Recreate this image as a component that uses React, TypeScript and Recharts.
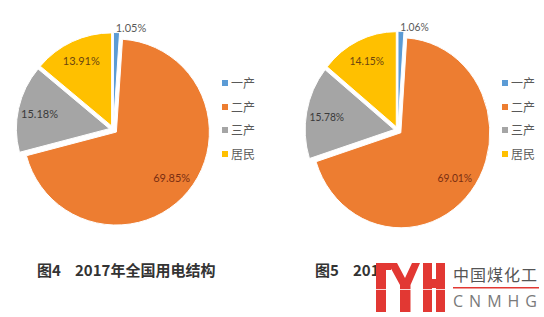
import React from 'react';
import { PieChart, Pie, Cell } from 'recharts';

const categories = ['一产', '二产', '三产', '居民'];
const values2017 = [1.05, 69.85, 15.18, 13.91];
const values2018 = [1.06, 69.01, 15.78, 14.15];
const colors = ['#5B9BD5', '#ED7D31', '#A5A5A5', '#FFC000'];
const labelColors = ['#5a5a5a', '#7a2e12', '#3a3a3a', '#6b4510'];
const captionLeft = ['图4', '2017年全国用电结构'];
// the rest of this caption is hidden under the watermark in the reference
const captionRight = ['图5', '201'];
const logoCn = '中国煤化工';
const logoEn = 'CNMHG';

const NUM_FONT = "Lato, 'Noto Sans', 'Noto Sans CJK SC', sans-serif";
const CJK_FONT = "'Noto Sans CJK SC', 'Noto Sans', sans-serif";

type ExplodedProps = {
  values: number[];
  cx: number;
  cy: number;
  r: number;
  explode: number;
  width: number;
  height: number;
};

function makeLabel(i: number, values: number[]) {
  return (props: any) => {
    if (props.index !== i) return null;
    const { cx, cy, midAngle, outerRadius } = props;
    const v = values[i];
    const RAD = Math.PI / 180;
    const outside = v < 5;
    const rr = outside ? outerRadius + 5 : outerRadius * 0.77;
    const x = cx + rr * Math.cos(-midAngle * RAD);
    const y = cy + rr * Math.sin(-midAngle * RAD);
    return (
      <text
        x={outside ? x - 1 : x}
        y={y}
        textAnchor={outside ? 'start' : 'middle'}
        dominantBaseline="central"
        fill={labelColors[i]}
        fontSize={11}
        fontFamily={NUM_FONT}
      >
        {v.toFixed(2)}%
      </text>
    );
  };
}

function ExplodedPie({ values, cx, cy, r, explode, width, height }: ExplodedProps) {
  const data = categories.map((name, i) => ({ name, value: values[i] }));
  const total = values.reduce((a, b) => a + b, 0);
  let cum = 0;
  const pies = values.map((v, i) => {
    const mid = ((cum + v / 2) / total) * 2 * Math.PI;
    cum += v;
    const ox = explode * Math.sin(mid);
    const oy = -explode * Math.cos(mid);
    return (
      <Pie
        key={i}
        data={data}
        dataKey="value"
        nameKey="name"
        cx={cx + ox}
        cy={cy + oy}
        outerRadius={r}
        startAngle={90}
        endAngle={-270}
        isAnimationActive={false}
        labelLine={false}
        label={makeLabel(i, values)}
        legendType="none"
      >
        {data.map((_, j) => (
          <Cell
            key={j}
            fill={j === i ? colors[j] : 'transparent'}
            stroke={j === i ? '#ffffff' : 'none'}
            strokeWidth={1}
          />
        ))}
      </Pie>
    );
  });
  return (
    <PieChart width={width} height={height}>
      {pies}
    </PieChart>
  );
}

function LegendBox({ left, top }: { left: number; top: number }) {
  return (
    <div style={{ position: 'absolute', left, top }}>
      {categories.map((c, i) => (
        <div
          key={c}
          style={{
            position: 'absolute',
            left: 0,
            top: i * 23.5,
            height: 14,
            display: 'flex',
            alignItems: 'center',
            whiteSpace: 'nowrap',
          }}
        >
          <span style={{ display: 'inline-block', width: 6, height: 6, background: colors[i], marginRight: 3 }} />
          <span style={{ fontFamily: CJK_FONT, fontSize: 12, color: '#595959', lineHeight: '14px' }}>{c}</span>
        </div>
      ))}
    </div>
  );
}

function Caption({ left, parts }: { left: number; parts: string[] }) {
  const st: React.CSSProperties = {
    position: 'absolute',
    top: 261,
    fontFamily: CJK_FONT,
    fontWeight: 700,
    fontSize: 15,
    lineHeight: '18px',
    color: '#333333',
    whiteSpace: 'nowrap',
  };
  return (
    <>
      <div style={{ ...st, left }}>{parts[0]}</div>
      <div style={{ ...st, left: left + 38 }}>{parts[1]}</div>
    </>
  );
}

function Logo() {
  const red = '#e23833';
  return (
    <svg width={544} height={317} style={{ position: 'absolute', left: 0, top: 0, pointerEvents: 'none' }}>
      <rect x={376} y={263} width={10} height={49} fill={red} />
      <rect x={376} y={263} width={15} height={7} fill={red} />
      <polygon
        points="388,263 397,263 405,278 412,263 420,263 410.5,285 410.5,312 400,312 400,285"
        fill={red}
      />
      <rect x={423} y={263} width={9} height={49} fill={red} />
      <rect x={436} y={263} width={9} height={49} fill={red} />
      <rect x={423} y={279} width={22} height={9} fill={red} />
      <rect x={375} y={289} width={72} height={1} fill="#ffffff" opacity={0.8} />
      <text x={453} y={281} fontFamily={CJK_FONT} fontSize={16} letterSpacing={1} fill="#555555">
        {logoCn}
      </text>
      <rect x={453} y={287} width={86} height={1.5} fill={red} />
      <text x={453} y={307} fontFamily="'Open Sans', 'Noto Sans', sans-serif" fontSize={16} letterSpacing={6} fill="#7a7a7a">
        {logoEn}
      </text>
    </svg>
  );
}

export default function App() {
  return (
    <div style={{ position: 'absolute', left: 0, top: 0, width: 544, height: 317, background: '#ffffff', overflow: 'hidden' }}>
      <div style={{ position: 'absolute', left: 0, top: 0 }}>
        <ExplodedPie values={values2017} cx={108.3} cy={124.5} r={93} explode={4} width={272} height={250} />
      </div>
      <div
        style={{
          position: 'absolute',
          left: 272,
          top: 0,
          transform: 'scaleX(0.937)',
          transformOrigin: '121.2px 125px',
        }}
      >
        <ExplodedPie values={values2018} cx={121.2} cy={125.3} r={95} explode={4} width={272} height={250} />
      </div>
      <LegendBox left={222} top={76} />
      <LegendBox left={502} top={76} />
      <Caption left={37} parts={captionLeft} />
      <Caption left={315} parts={captionRight} />
      <Logo />
    </div>
  );
}
